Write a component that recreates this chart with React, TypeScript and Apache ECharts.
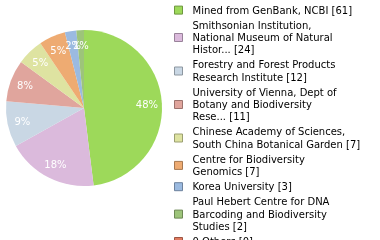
import React, { useEffect, useRef } from "react";
import * as echarts from "echarts";

const names: string[] = [
  "Mined from GenBank, NCBI",
  "Smithsonian Institution,\nNational Museum of Natural\nHistor...",
  "Forestry and Forest Products\nResearch Institute",
  "University of Vienna, Dept of\nBotany and Biodiversity\nRese...",
  "Chinese Academy of Sciences,\nSouth China Botanical Garden",
  "Centre for Biodiversity\nGenomics",
  "Korea University",
  "Paul Hebert Centre for DNA\nBarcoding and Biodiversity\nStudies",
  "0 Others",
];
const values: number[] = [61, 24, 12, 11, 7, 7, 3, 2, 0];
const colors: string[] = [
  "#9dd95a",
  "#dbbadc",
  "#c9d7e4",
  "#e0a59d",
  "#dee3a1",
  "#eeab72",
  "#9bbae0",
  "#9dc47a",
  "#e07a5f",
];

function darken(hex: string, f: number): string {
  const n = parseInt(hex.slice(1), 16);
  const r = Math.round(((n >> 16) & 255) * f);
  const g = Math.round(((n >> 8) & 255) * f);
  const b = Math.round((n & 255) * f);
  return "rgb(" + r + "," + g + "," + b + ")";
}

export default function App() {
  const ref = useRef<HTMLDivElement>(null);
  useEffect(() => {
    if (!ref.current) return;
    const chart = echarts.init(ref.current, undefined, { renderer: "svg" });
    const font = "DejaVu Sans";
    const valueByName: Record<string, number> = {};
    names.forEach((n, i) => (valueByName[n] = values[i]));
    const data = names.map((n, i) => ({
      name: n,
      value: values[i],
      itemStyle: { color: colors[i] },
    }));
    const labelData = names.map((n, i) => ({
      name: n,
      value: values[i],
      label: { show: values[i] > 0 },
    }));
    chart.setOption({
      animation: false,
      legend: {
        orient: "vertical",
        left: 174,
        top: 4,
        height: 600,
        padding: 0,
        itemWidth: 8,
        itemHeight: 8,
        itemGap: 3,
        selectedMode: false,
        icon: "rect",
        data: names.map((n, i) => ({
          name: n,
          itemStyle: { color: colors[i], borderColor: darken(colors[i], 0.7), borderWidth: 1 },
        })),
        formatter: (n: string) => n + " [" + valueByName[n] + "]",
        textStyle: {
          fontFamily: font,
          fontSize: 10,
          lineHeight: 12.2,
          color: "#000",
          padding: [0, 0, 0, 5],
        },
      },
      series: [
        {
          type: "pie",
          center: [84, 108],
          radius: [0, 78],
          startAngle: 90,
          clockwise: true,
          silent: true,
          label: { show: false },
          labelLine: { show: false },
          itemStyle: { borderWidth: 0 },
          data,
        },
        {
          type: "pie",
          center: [84, 108],
          radius: [42, 78],
          startAngle: 90,
          clockwise: true,
          silent: true,
          avoidLabelOverlap: false,
          labelLayout: { hideOverlap: false },
          itemStyle: { color: "rgba(0,0,0,0)", borderWidth: 0 },
          labelLine: { show: false },
          label: {
            show: true,
            position: "inside",
            color: "#fff",
            fontFamily: font,
            fontSize: 10,
            formatter: (p: any) => Math.floor(p.percent) + "%",
          },
          data: labelData,
        },
      ],
    });
    return () => chart.dispose();
  }, []);
  return (
    <div
      ref={ref}
      style={{ position: "fixed", left: 0, top: 0, width: 380, height: 240 }}
    />
  );
}
